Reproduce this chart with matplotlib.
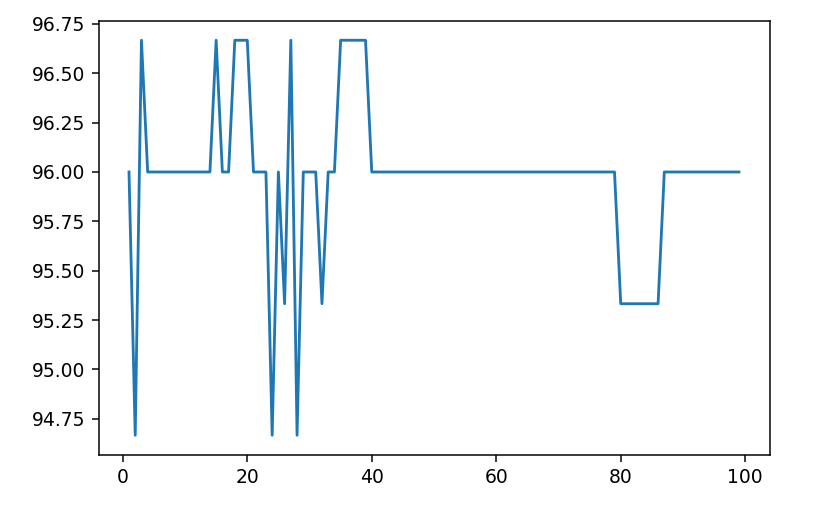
import numpy as np
import matplotlib
matplotlib.use("Agg")
import matplotlib.pyplot as plt

# epochs 1..99
epochs = list(range(1, 100))

# accuracy per epoch (%)
acc = [
    96.0, 94.667, 96.667, 96.0, 96.0, 96.0, 96.0, 96.0, 96.0, 96.0,       # 1-10
    96.0, 96.0, 96.0, 96.0, 96.667, 96.0, 96.0, 96.667, 96.667, 96.667,  # 11-20
    96.0, 96.0, 96.0, 94.667, 96.0, 95.333, 96.667, 94.667, 96.0, 96.0,  # 21-30
    96.0, 95.333, 96.0, 96.0, 96.667, 96.667, 96.667, 96.667, 96.667, 96.0,  # 31-40
    96.0, 96.0, 96.0, 96.0, 96.0, 96.0, 96.0, 96.0, 96.0, 96.0,          # 41-50
    96.0, 96.0, 96.0, 96.0, 96.0, 96.0, 96.0, 96.0, 96.0, 96.0,          # 51-60
    96.0, 96.0, 96.0, 96.0, 96.0, 96.0, 96.0, 96.0, 96.0, 96.0,          # 61-70
    96.0, 96.0, 96.0, 96.0, 96.0, 96.0, 96.0, 96.0, 96.0, 95.333,        # 71-80
    95.333, 95.333, 95.333, 95.333, 95.333, 95.333, 96.0, 96.0, 96.0, 96.0,  # 81-90
    96.0, 96.0, 96.0, 96.0, 96.0, 96.0, 96.0, 96.0, 96.0,                # 91-99
]

fig = plt.figure(figsize=(837 / 135, 515 / 135), dpi=135)
ax = fig.add_axes([98.5 / 837, 1 - 455 / 515, (769.5 - 98.5) / 837, (455 - 20.5) / 515])
ax.plot(epochs, acc, color="#1f77b4")

fig.savefig("out.png", dpi=135)
